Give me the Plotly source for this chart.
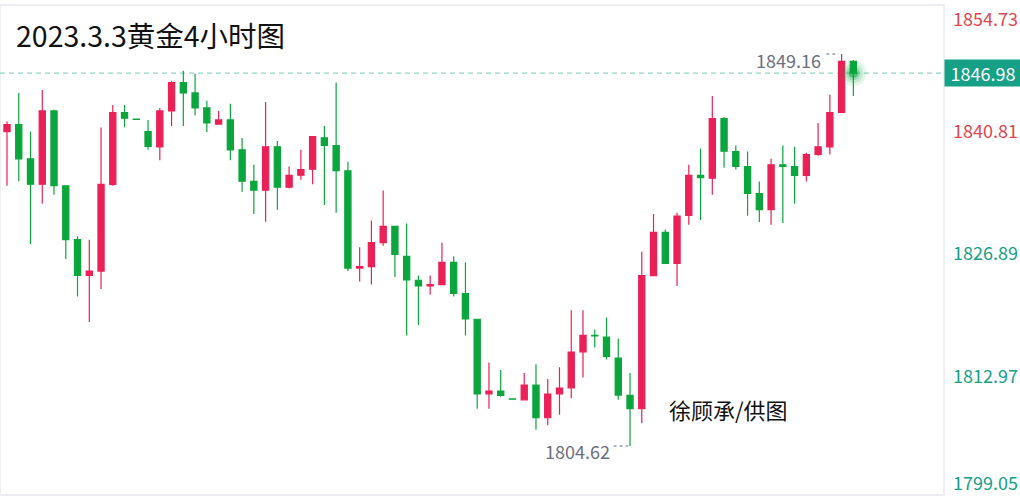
import numpy as np
import plotly.graph_objects as go

# 4-hour gold candles, 2023-03-03
opens = [1840.35, 1841.14, 1837.25, 1834.37, 1842.69, 1834.19, 1828.06, 1824.01, 1824.50, 1834.34,
         1842.50, 1841.76, 1840.35, 1838.61, 1842.69, 1845.91, 1844.74, 1843.04, 1841.18, 1841.67,
         1838.27, 1834.68, 1833.69, 1838.61, 1834.03, 1835.39, 1836.07, 1839.63, 1838.76, 1835.89,
         1824.84, 1825.00, 1827.72, 1829.57, 1826.17, 1823.45, 1822.80, 1822.96, 1825.49, 1821.94,
         1819.02, 1810.55, 1810.86, 1809.97, 1809.87, 1811.54, 1807.83, 1810.55, 1811.23, 1815.32,
         1817.18, 1816.98, 1814.60, 1810.37, 1808.85, 1823.98, 1828.89, 1825.38, 1830.82, 1835.36,
         1835.05, 1841.82, 1838.08, 1836.38, 1833.31, 1831.47, 1836.57, 1836.38, 1835.36, 1837.74,
         1838.61, 1842.54, 1848.32]
highs = [1841.48, 1844.74, 1840.35, 1845.08, 1842.84, 1834.19, 1828.44, 1828.06, 1840.80, 1843.38,
         1843.38, 1841.80, 1841.67, 1843.04, 1846.13, 1847.27, 1846.93, 1843.86, 1842.69, 1843.52,
         1839.63, 1836.57, 1843.72, 1839.29, 1836.38, 1838.27, 1839.78, 1840.99, 1845.91, 1836.91,
         1827.19, 1830.25, 1833.66, 1829.57, 1829.91, 1823.98, 1823.98, 1827.72, 1826.17, 1825.49,
         1819.02, 1814.11, 1813.24, 1809.99, 1812.90, 1813.92, 1812.22, 1813.58, 1820.05, 1820.05,
         1817.86, 1819.22, 1816.84, 1812.90, 1826.70, 1830.97, 1829.23, 1831.13, 1836.57, 1838.42,
         1844.40, 1842.01, 1838.76, 1838.08, 1834.68, 1837.25, 1838.76, 1838.61, 1837.93, 1841.33,
         1844.54, 1849.16, 1848.48]
lows = [1834.19, 1834.71, 1827.56, 1832.15, 1833.17, 1825.86, 1821.60, 1818.72, 1822.46, 1834.19,
        1840.84, 1841.68, 1838.27, 1837.09, 1840.99, 1840.99, 1842.16, 1840.31, 1841.18, 1837.09,
        1833.51, 1830.97, 1830.11, 1831.47, 1833.88, 1834.87, 1834.37, 1831.99, 1831.13, 1824.50,
        1823.30, 1822.96, 1827.38, 1823.82, 1817.18, 1818.38, 1821.80, 1822.96, 1821.60, 1817.18,
        1808.85, 1808.85, 1810.21, 1809.91, 1809.87, 1806.47, 1806.97, 1808.17, 1810.03, 1812.41,
        1815.81, 1814.45, 1809.87, 1804.62, 1807.19, 1823.98, 1825.38, 1822.80, 1829.77, 1830.29,
        1833.17, 1836.23, 1836.04, 1830.79, 1830.06, 1829.77, 1829.95, 1832.15, 1834.68, 1837.59,
        1837.74, 1842.54, 1844.40]
closes = [1841.14, 1837.25, 1834.37, 1842.69, 1834.19, 1828.06, 1824.01, 1824.50, 1834.34, 1842.50,
          1841.86, 1841.72, 1838.65, 1842.69, 1845.91, 1844.74, 1843.04, 1841.33, 1841.67, 1838.27,
          1834.71, 1833.69, 1838.61, 1834.03, 1835.36, 1836.04, 1839.78, 1838.79, 1835.92, 1824.84,
          1825.00, 1827.72, 1829.57, 1826.40, 1823.48, 1822.80, 1822.96, 1825.49, 1821.97, 1819.06,
          1810.55, 1810.86, 1810.37, 1809.93, 1811.54, 1807.83, 1810.52, 1811.20, 1815.28, 1817.18,
          1817.12, 1814.79, 1810.40, 1808.85, 1823.98, 1828.89, 1825.38, 1830.74, 1835.36, 1835.10,
          1841.82, 1838.11, 1836.38, 1833.31, 1831.47, 1836.57, 1836.38, 1835.36, 1837.74, 1838.61,
          1842.50, 1848.32, 1846.98]

axis_ticks = [1854.73, 1840.81, 1826.89, 1812.97, 1799.05]
axis_tick_colors = ["#E0464F", "#E0464F", "#16A086", "#16A086", "#16A086"]
title_text = "2023.3.3黄金4小时图"
credit_text = "徐顾承/供图"

UP = "#EA2157"
DOWN = "#0AA63D"
TEAL = "#16A086"
GRAY = "#6B6F7E"
FONT = "Noto Sans CJK SC"

x = np.arange(len(opens))
last_close = closes[-1]
i_hi = int(np.argmax(highs))
i_lo = int(np.argmin(lows))
y_lo, y_hi = axis_ticks[-1], axis_ticks[0]


def tick_label(v, c):
    return f'<span style="color:{c}">{v:.2f}</span>'


fig = go.Figure()
fig.add_trace(go.Candlestick(
    x=x, open=opens, high=highs, low=lows, close=closes,
    increasing=dict(line=dict(color=UP, width=1.2), fillcolor=UP),
    decreasing=dict(line=dict(color=DOWN, width=1.2), fillcolor=DOWN),
    whiskerwidth=0, hoverinfo="skip", showlegend=False,
))

# soft halo on the latest price (drawn on the overlay axes, which share the price range)
for size, alpha, ax in [(26, 0.10, "y2"), (20, 0.14, "y2"), (14, 0.22, "y2"), (9, 0.55, "y3")]:
    fig.add_trace(go.Scatter(
        x=[x[-1]], y=[last_close], yaxis=ax, mode="markers", hoverinfo="skip", showlegend=False,
        marker=dict(size=size, color=f"rgba(10,166,61,{alpha})", line=dict(width=0)),
    ))

mid = axis_ticks[1:4]
mid_c = axis_tick_colors[1:4]
common_y = dict(range=[y_lo, y_hi], side="right", showgrid=False, zeroline=False,
                showline=False, ticks="", fixedrange=True,
                tickfont=dict(family=FONT, size=18, color=TEAL), ticklabelstandoff=8)

fig.update_layout(
    width=1020, height=504,
    margin=dict(l=0, r=76, t=5, b=9),
    paper_bgcolor="white", plot_bgcolor="white",
    boxgap=0.25, boxgroupgap=0.3,
    xaxis=dict(range=[-0.5955, 79.71], showgrid=False, zeroline=False, showticklabels=False,
               ticks="", showline=False, rangeslider=dict(visible=False), fixedrange=True),
    yaxis=dict(**common_y, tickvals=mid,
               ticktext=[tick_label(v, c) for v, c in zip(mid, mid_c)], ticklabelshift=4),
    yaxis2=dict(**common_y, overlaying="y", anchor="x", tickvals=[axis_ticks[0]],
                ticktext=[tick_label(axis_ticks[0], axis_tick_colors[0])], ticklabelshift=15),
    yaxis3=dict(**common_y, overlaying="y", anchor="x", tickvals=[axis_ticks[-1]],
                ticktext=[tick_label(axis_ticks[-1], axis_tick_colors[-1])], ticklabelshift=-11),
    showlegend=False,
    hovermode=False,
)

# plot frame
fig.add_shape(type="rect", xref="paper", yref="paper", x0=0, x1=1, y0=0, y1=1,
              line=dict(color="#EDEEF3", width=2), layer="below")
# last price line
fig.add_shape(type="line", xref="paper", yref="y", x0=0, x1=1, y0=last_close, y1=last_close,
              line=dict(color="#92D6C6", width=1.2, dash="5px,4px"), layer="below")
# dotted leaders to the extreme candles
fig.add_shape(type="line", xref="x", yref="y", x0=i_hi - 1.3, x1=i_hi - 0.25,
              y0=highs[i_hi], y1=highs[i_hi], line=dict(color=GRAY, width=1.2, dash="dot"))
fig.add_shape(type="line", xref="x", yref="y", x0=i_lo - 1.4, x1=i_lo - 0.15,
              y0=lows[i_lo], y1=lows[i_lo], line=dict(color=GRAY, width=1.2, dash="dot"))

fig.add_annotation(x=i_hi, y=highs[i_hi], xref="x", yref="y", text=f"{highs[i_hi]:.2f}",
                   showarrow=False, xanchor="right", yanchor="middle", xshift=-19, yshift=-6,
                   font=dict(family=FONT, size=18, color=GRAY))
fig.add_annotation(x=i_lo, y=lows[i_lo], xref="x", yref="y", text=f"{lows[i_lo]:.2f}",
                   showarrow=False, xanchor="right", yanchor="middle", xshift=-18, yshift=-5,
                   font=dict(family=FONT, size=18, color=GRAY))

# last price tag on the axis
fig.add_annotation(x=1, y=last_close, xref="paper", yref="y", text=f"{last_close:.2f}",
                   showarrow=False, xanchor="left", yanchor="middle", width=72, height=22,
                   borderpad=2, bgcolor=TEAL, align="center",
                   font=dict(family=FONT, size=18, color="white"))

fig.add_annotation(x=14 / 944, y=0.94, xref="paper", yref="paper", text=title_text,
                   showarrow=False, xanchor="left", yanchor="middle",
                   font=dict(family=FONT, size=28.5, color="#111111"))
fig.add_annotation(x=667 / 944, y=0.176, xref="paper", yref="paper", text=credit_text,
                   showarrow=False, xanchor="left", yanchor="middle",
                   font=dict(family=FONT, size=22, color="#111111"))

fig.write_html("out.html", config={"displayModeBar": False, "staticPlot": True})
